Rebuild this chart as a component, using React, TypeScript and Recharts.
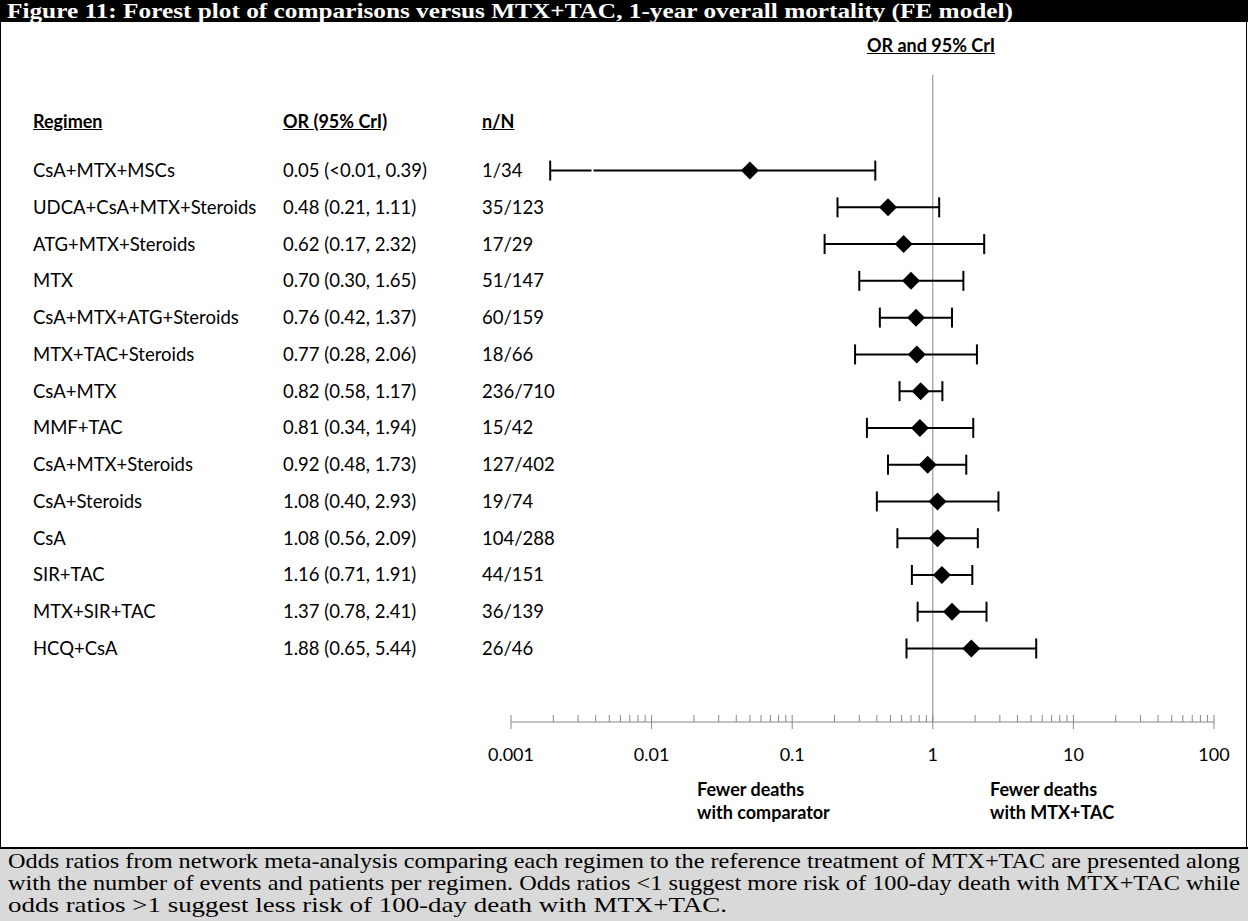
import React from "react";
import { ScatterChart, Scatter, XAxis, YAxis, ErrorBar, ReferenceLine } from "recharts";

const regimens = [
  "CsA+MTX+MSCs",
  "UDCA+CsA+MTX+Steroids",
  "ATG+MTX+Steroids",
  "MTX",
  "CsA+MTX+ATG+Steroids",
  "MTX+TAC+Steroids",
  "CsA+MTX",
  "MMF+TAC",
  "CsA+MTX+Steroids",
  "CsA+Steroids",
  "CsA",
  "SIR+TAC",
  "MTX+SIR+TAC",
  "HCQ+CsA",
];
const oddsRatios = [0.05, 0.48, 0.62, 0.7, 0.76, 0.77, 0.82, 0.81, 0.92, 1.08, 1.08, 1.16, 1.37, 1.88];
// first lower bound is "<0.01" in the table, drawn near 0.002
const lowerCrI = [0.0019, 0.21, 0.17, 0.3, 0.42, 0.28, 0.58, 0.34, 0.48, 0.4, 0.56, 0.71, 0.78, 0.65];
const upperCrI = [0.39, 1.11, 2.32, 1.65, 1.37, 2.06, 1.17, 1.94, 1.73, 2.93, 2.09, 1.91, 2.41, 5.44];
const orLabels = [
  "0.05 (<0.01, 0.39)",
  "0.48 (0.21, 1.11)",
  "0.62 (0.17, 2.32)",
  "0.70 (0.30, 1.65)",
  "0.76 (0.42, 1.37)",
  "0.77 (0.28, 2.06)",
  "0.82 (0.58, 1.17)",
  "0.81 (0.34, 1.94)",
  "0.92 (0.48, 1.73)",
  "1.08 (0.40, 2.93)",
  "1.08 (0.56, 2.09)",
  "1.16 (0.71, 1.91)",
  "1.37 (0.78, 2.41)",
  "1.88 (0.65, 5.44)",
];
const eventCounts = [
  "1/34", "35/123", "17/29", "51/147", "60/159", "18/66", "236/710",
  "15/42", "127/402", "19/74", "104/288", "44/151", "36/139", "26/46",
];
// small break drawn in the first interval (truncated lower bound)
const breakMarks = [{ row: 0, or: 0.0038 }];
const majorTicks = [0.001, 0.01, 0.1, 1, 10, 100];
const majorTickLabels = ["0.001", "0.01", "0.1", "1", "10", "100"];
const minorSteps = [2, 3, 4, 5, 6, 7, 8, 9];

const rowData = regimens.map((name, i) => ({
  row: i,
  or: oddsRatios[i],
  err: [oddsRatios[i] - lowerCrI[i], upperCrI[i] - oddsRatios[i]],
}));

const allTicks = [
  ...majorTicks,
  ...majorTicks.slice(0, -1).flatMap((d) => minorSteps.map((m) => d * m)),
].sort((a, b) => a - b);

const sans = "Lato, 'Open Sans', sans-serif";
const serif = "'Liberation Serif', 'Times New Roman', serif";
const gray = "#868686";

const RowTick = (props: any) => {
  const { y, payload } = props;
  const i = payload.value;
  return (
    <g fontFamily={sans} fontSize={18.5} fill="#000">
      <text x={33} y={y} dy="0.35em">{regimens[i]}</text>
      <text x={283} y={y} dy="0.35em">{orLabels[i]}</text>
      <text x={482} y={y} dy="0.35em">{eventCounts[i]}</text>
    </g>
  );
};

const LogTick = (props: any) => {
  const { x, y, payload } = props;
  const idx = majorTicks.findIndex((t) => Math.abs(t - payload.value) < payload.value * 1e-6);
  const major = idx >= 0;
  return (
    <g>
      <line x1={x} x2={x} y1={y - 7} y2={major ? y + 7 : y} stroke={gray} strokeWidth={1} />
      {major && (
        <text x={x} y={y + 33} dy="0.35em" textAnchor="middle" fontFamily={sans} fontSize={18} fill="#000">
          {majorTickLabels[idx]}
        </text>
      )}
    </g>
  );
};

const Diamond = (props: any) => {
  const { cx, cy } = props;
  const h = 9;
  return <polygon points={`${cx},${cy - h} ${cx + h},${cy} ${cx},${cy + h} ${cx - h},${cy}`} fill="#000" />;
};

const BreakMark = (props: any) => {
  const { cx, cy } = props;
  return <rect x={cx - 1} y={cy - 3} width={2} height={6} fill="#fff" />;
};

const headStyle: React.CSSProperties = {
  position: "absolute",
  fontFamily: sans,
  fontSize: 18,
  fontWeight: 700,
  textDecoration: "underline",
  lineHeight: "20px",
  whiteSpace: "nowrap",
};

const noteStyle: React.CSSProperties = {
  position: "absolute",
  fontFamily: sans,
  fontSize: 18,
  fontWeight: 700,
  lineHeight: "23px",
  whiteSpace: "nowrap",
};

export default function App() {
  return (
    <div style={{ position: "absolute", left: 0, top: 0, width: 1248, height: 921, background: "#fff", overflow: "hidden" }}>
      <div style={{ position: "absolute", left: 0, top: 0 }}>
        <ScatterChart width={1248} height={848} margin={{ top: 75, right: 34, bottom: 66, left: 0 }}>
          <XAxis
            type="number"
            dataKey="or"
            scale="log"
            domain={[0.001, 100]}
            allowDataOverflow
            ticks={allTicks}
            interval={0}
            tickSize={0}
            tickMargin={0}
            tickLine={false}
            axisLine={{ stroke: gray }}
            tick={<LogTick />}
            height={60}
          />
          <YAxis
            type="number"
            dataKey="row"
            domain={[-2.6, 15]}
            reversed
            ticks={regimens.map((_, i) => i)}
            interval={0}
            width={511}
            axisLine={false}
            tickLine={false}
            tick={<RowTick />}
          />
          <ReferenceLine x={1} stroke={gray} strokeWidth={1} />
          <Scatter data={rowData} shape={<Diamond />} isAnimationActive={false}>
            <ErrorBar dataKey="err" direction="x" width={10} stroke="#000" strokeWidth={2} />
          </Scatter>
          <Scatter data={breakMarks} shape={<BreakMark />} isAnimationActive={false} />
        </ScatterChart>
      </div>

      <svg style={{ position: "absolute", left: 0, top: 0 }} width={1248} height={24}>
        <rect x={0} y={0} width={1248} height={22} fill="#000" />
        <text
          x={7}
          y={17.5}
          fill="#fff"
          fontFamily={serif}
          fontWeight={700}
          fontSize={21.5}
          textLength={1006}
          lengthAdjust="spacingAndGlyphs"
        >
          Figure 11: Forest plot of comparisons versus MTX+TAC, 1-year overall mortality (FE model)
        </text>
      </svg>
      <div style={{ position: "absolute", left: 0, top: 22, width: 1, height: 826, background: "#000" }} />
      <div style={{ position: "absolute", left: 1246, top: 22, width: 1, height: 826, background: "#000" }} />

      <div style={{ ...headStyle, left: 931, top: 35, transform: "translateX(-50%)" }}>OR and 95% CrI</div>
      <div style={{ ...headStyle, left: 33, top: 111 }}>Regimen</div>
      <div style={{ ...headStyle, left: 283, top: 111 }}>OR (95% CrI)</div>
      <div style={{ ...headStyle, left: 482, top: 111 }}>n/N</div>

      <div style={{ ...noteStyle, left: 697, top: 778 }}>
        Fewer deaths
        <br />
        with comparator
      </div>
      <div style={{ ...noteStyle, left: 990, top: 778 }}>
        Fewer deaths
        <br />
        with MTX+TAC
      </div>

      <svg style={{ position: "absolute", left: 0, top: 847 }} width={1248} height={74}>
        <rect x={0} y={0} width={1248} height={74} fill="#d9d9d9" />
        <rect x={0} y={0} width={1248} height={2} fill="#000" />
        <g fontFamily={serif} fontSize={21.5} fill="#000">
          <text x={8} y={21} textLength={1232} lengthAdjust="spacingAndGlyphs">
            Odds ratios from network meta-analysis comparing each regimen to the reference treatment of MTX+TAC are presented along
          </text>
          <text x={8} y={43} textLength={1232} lengthAdjust="spacingAndGlyphs">
            with the number of events and patients per regimen. Odds ratios &lt;1 suggest more risk of 100-day death with MTX+TAC while
          </text>
          <text x={8} y={65} textLength={719} lengthAdjust="spacingAndGlyphs">
            odds ratios &gt;1 suggest less risk of 100-day death with MTX+TAC.
          </text>
        </g>
      </svg>
    </div>
  );
}
